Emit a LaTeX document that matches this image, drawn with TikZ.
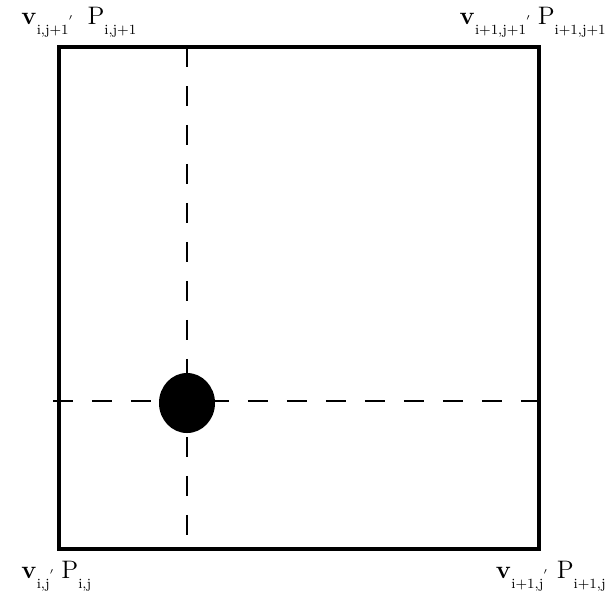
\documentclass[tikz,border=0pt]{standalone}
\usepackage{tikz}
\usetikzlibrary{positioning, calc}
\usepackage{amsmath}

% labels of the cell corners
\newcommand{\vsub}[1]{$\mathbf{v}$\raisebox{-6pt}{\footnotesize #1}\raisebox{-1pt}{\scriptsize$'$}}
\newcommand{\psub}[1]{P\raisebox{-6pt}{\footnotesize #1}}

\begin{document}
\begin{tikzpicture}[x=0.02cm, y=-0.02cm, font=\Large,
    cell/.style={line width=2.3pt},
    cut/.style={line width=0.8pt, dash pattern=on 0.4cm off 0.38cm},
    cornerw/.style={inner sep=0pt, anchor=base west},
    cornere/.style={inner sep=0pt, anchor=base east}]
    \useasboundingbox (0,0) rectangle (608,593);
    % corners of the cell
    \coordinate (sw) at (59,549);
    \coordinate (ne) at (539,47);
    \coordinate (cx) at (187,403);
    % dashed cross through the point
    \coordinate (cn) at (187,47);
    \coordinate (cs) at (187,549);
    \coordinate (cw) at (53,401);
    \coordinate (ce) at (539,401);
    \draw[cut] (cn) -- (cs);
    \draw[cut] (cw) -- (ce);
    \draw[cell] (sw) rectangle (ne);
    \fill (cx) ellipse [x radius=28, y radius=30];
    % corner labels
    \node[cornerw] (tl) at (21,24) {\vsub{i,j+1}\hspace{8pt}\psub{i,j+1}};
    \node[cornere] (tr) at (606,24) {\vsub{i+1,j+1}\hspace{4pt}\psub{i+1,j+1}};
    \node[cornerw] (bl) at (21,578) {\vsub{i,j}\hspace{4pt}\psub{i,j}};
    \node[cornere] (br) at (606,578) {\vsub{i+1,j}\hspace{5pt}\psub{i+1,j}};
\end{tikzpicture}
\end{document}
